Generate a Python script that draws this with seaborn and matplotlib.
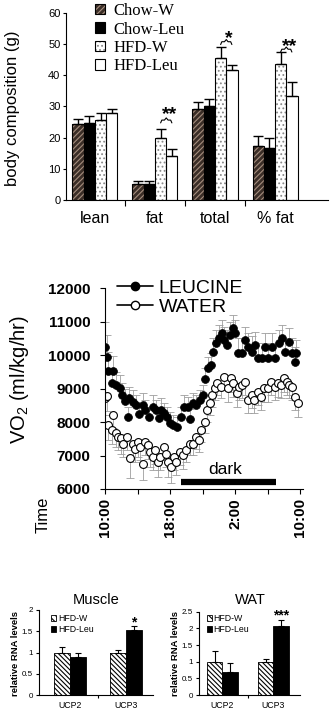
import numpy as np
import pandas as pd
import matplotlib
matplotlib.use("Agg")
import matplotlib.pyplot as plt
from matplotlib.patches import Patch, Rectangle
from matplotlib.lines import Line2D
from matplotlib.ticker import FormatStrFormatter
import seaborn as sns

# ---------------- Panel 1: body composition ----------------
comp_categories = ["lean", "fat", "total", "% fat"]
comp_groups = ["Chow-W", "Chow-Leu", "HFD-W", "HFD-Leu"]
chow_w = [24.5, 5.2, 29.3, 17.2]
chow_w_err = [1.6, 0.9, 2.0, 3.3]
chow_leu = [24.8, 5.0, 30.0, 16.8]
chow_leu_err = [2.2, 1.2, 2.4, 3.2]
hfd_w = [25.7, 20.0, 45.5, 43.7]
hfd_w_err = [2.3, 2.7, 3.6, 3.8]
hfd_leu = [27.8, 14.0, 41.5, 33.3]
hfd_leu_err = [1.2, 2.3, 1.8, 4.4]
comp_sig = ["", "**", "*", "**"]
comp_yticks = [0, 10, 20, 30, 40, 50, 60]

# ---------------- Panel 2: VO2 time course ----------------
leu_hours = [0.00, 0.29, 0.41, 0.83, 1.03, 1.32, 1.86, 2.15, 2.44, 2.77,
             2.98, 3.39, 3.80, 4.21, 4.63, 4.96, 5.45, 5.87, 6.28, 6.61,
             6.90, 7.31, 7.64, 8.06, 8.35, 8.88, 9.30, 9.71, 10.21, 10.41,
             10.83, 11.24, 11.65, 12.07, 12.27, 12.69, 13.02, 13.31, 13.72, 14.01,
             14.34, 14.67, 14.96, 15.37, 15.70, 15.99, 16.40, 16.82, 17.23, 17.64,
             18.06, 18.47, 18.88, 19.30, 19.71, 20.12, 20.54, 20.95, 21.36, 21.78,
             22.19, 22.60, 23.02, 23.35, 23.51]
leu_vo2 = [10250, 9940, 9540, 9160, 9540, 9110, 9010, 8810, 8640, 8160,
           8710, 8610, 8510, 8240, 8510, 8360, 8160, 8460, 8360, 8110,
           8360, 8260, 8160, 7960, 7910, 7840, 8160, 8460, 8460, 8080,
           8560, 8510, 8660, 8810, 9280, 9610, 9710, 10110, 10350, 10500,
           10650, 10450, 10300, 10600, 10800, 10650, 10060, 10060, 10450, 10250,
           10110, 10300, 9910, 9910, 10250, 9910, 10250, 9910, 10350, 10500,
           10110, 10400, 10060, 9810, 10060]
leu_sem = [750, 650, 550, 450, 450, 400, 400, 350, 350, 300,
           350, 350, 300, 300, 350, 300, 300, 350, 300, 300,
           350, 300, 300, 350, 300, 300, 300, 350, 300, 300,
           300, 300, 300, 300, 350, 350, 350, 400, 400, 400,
           400, 400, 450, 400, 400, 400, 450, 450, 400, 400,
           450, 400, 450, 450, 400, 450, 400, 450, 400, 400,
           400, 400, 450, 450, 400]
wat_hours = [0.00, 0.29, 0.37, 0.83, 1.03, 1.32, 1.61, 1.94, 2.27, 2.69,
             3.10, 3.39, 3.68, 4.01, 4.34, 4.63, 4.92, 5.25, 5.58, 5.87,
             6.16, 6.49, 6.82, 7.23, 7.52, 7.81, 8.14, 8.47, 8.76, 9.17,
             9.59, 10.00, 10.41, 10.83, 11.16, 11.53, 11.86, 12.27, 12.60, 12.89,
             13.22, 13.51, 13.84, 14.26, 14.67, 15.08, 15.50, 15.79, 16.20, 16.49,
             16.82, 17.23, 17.64, 18.06, 18.39, 18.80, 19.21, 19.63, 20.04, 20.45,
             20.87, 21.28, 21.69, 21.98, 22.40, 22.69, 23.02, 23.35, 23.76]
wat_vo2 = [8710, 8780, 7910, 7760, 8210, 7660, 7560, 7510, 7360, 7560,
           6920, 7360, 7210, 7410, 7260, 6760, 7410, 7310, 7110, 6970,
           7160, 6820, 6970, 7260, 7060, 6820, 6670, 6970, 6820, 7110,
           7010, 7160, 7360, 7360, 7560, 7460, 7760, 8010, 8360, 8560,
           8810, 9010, 9160, 9060, 9360, 9010, 9310, 9160, 8860, 9060,
           9110, 9210, 8660, 8810, 8660, 8910, 8760, 9010, 9010, 9210,
           9060, 9160, 9110, 9310, 9210, 9110, 9060, 8760, 8560]
wat_sem = [500, 450, 450, 400, 400, 400, 400, 450, 400, 400,
           600, 400, 400, 450, 400, 500, 400, 400, 450, 400,
           400, 450, 400, 400, 400, 450, 500, 400, 400, 400,
           400, 350, 350, 350, 350, 350, 350, 350, 350, 350,
           350, 350, 350, 350, 400, 400, 400, 400, 400, 400,
           400, 400, 400, 400, 400, 400, 400, 400, 400, 400,
           400, 400, 400, 400, 400, 400, 400, 400, 400]
time_tick_hours = [0, 8, 16, 24]
time_tick_labels = ["10:00", "18:00", "2:00", "10:00"]
dark_start, dark_end = 9.3, 21.1
vo2_yticks = [6000, 7000, 8000, 9000, 10000, 11000, 12000]

# ---------------- Panel 3: relative RNA levels ----------------
genes = ["UCP2", "UCP3"]
rna_groups = ["HFD-W", "HFD-Leu"]
muscle_w = [1.0, 1.0]
muscle_w_err = [0.13, 0.06]
muscle_leu = [0.90, 1.52]
muscle_leu_err = [0.08, 0.11]
muscle_sig = ["", "*"]
wat_w = [1.0, 1.0]
wat_w_err = [0.32, 0.09]
wat_leu = [0.70, 2.08]
wat_leu_err = [0.25, 0.16]
wat_sig = ["", "***"]

# ---------------- style ----------------
sns.set_style("ticks")
plt.rcParams.update({
    "font.family": ["Liberation Sans", "DejaVu Sans"],
    "mathtext.fontset": "custom",
    "mathtext.rm": "Liberation Sans",
    "mathtext.it": "Liberation Sans:italic",
    "mathtext.bf": "Liberation Sans:bold",
    "hatch.linewidth": 0.8,
    "axes.linewidth": 0.8,
    "axes.edgecolor": "black",
    "xtick.color": "black",
    "ytick.color": "black",
    "xtick.major.width": 0.8,
    "ytick.major.width": 0.8,
    "xtick.minor.width": 0.8,
    "text.color": "black",
    "axes.labelcolor": "black",
})

W, H = 335, 728
fig = plt.figure(figsize=(W / 100, H / 100), dpi=100)


def px_axes(left, top, right, bottom):
    return fig.add_axes([left / W, 1 - bottom / H, (right - left) / W, (bottom - top) / H])


def draw_bars(ax, cats, groups, values, errs, faces, hatches, hatch_cols, width, cap, elw, olw):
    df = pd.DataFrame({
        "cat": [c for g in groups for c in cats],
        "group": [g for g in groups for c in cats],
        "value": [v for vals in values for v in vals],
    })
    sns.barplot(data=df, x="cat", y="value", hue="group", order=cats, hue_order=groups,
                palette=dict(zip(groups, faces)), width=width, gap=0, errorbar=None,
                saturation=1, legend=False, ax=ax)
    centers = []
    for cont, hatch, hc, e_list in zip(ax.containers, hatches, hatch_cols, errs):
        xs, ys = [], []
        for bar in cont:
            if hatch:
                bar.set_hatch(hatch)
                bar.set_edgecolor(hc)
                bar.set_linewidth(0)
                ax.add_patch(Rectangle(bar.get_xy(), bar.get_width(), bar.get_height(),
                                       fill=False, edgecolor="black", lw=olw,
                                       zorder=bar.get_zorder() + 0.1))
            else:
                bar.set_edgecolor("black")
                bar.set_linewidth(olw)
            xs.append(bar.get_x() + bar.get_width() / 2)
            ys.append(bar.get_height())
        ax.errorbar(xs, ys, yerr=[np.zeros(len(e_list)), e_list], fmt="none",
                    ecolor="black", elinewidth=elw, capsize=cap, capthick=elw, zorder=3)
        centers.append(xs)
    ax.set_xlabel("")
    ax.set_ylabel("")
    sns.despine(ax=ax)
    return centers


# ================= Panel 1 =================
ax1 = px_axes(66, 12.7, 328, 200)
faces1 = ["#3b2e27", "black", "white", "white"]
hatches1 = ["//////", None, "....", None]
hcols1 = ["#a58e7e", None, "#8a8a8a", None]
c1 = draw_bars(ax1, comp_categories, comp_groups, [chow_w, chow_leu, hfd_w, hfd_leu],
               [chow_w_err, chow_leu_err, hfd_w_err, hfd_leu_err],
               faces1, hatches1, hcols1, width=0.75, cap=3.5, elw=1.0, olw=0.8)
ax1.set_xlim(-0.483, 3.883)
ax1.set_ylim(0, 60)
ax1.set_yticks(comp_yticks)
ax1.tick_params(axis="y", labelsize=8, length=2.5, pad=1.5)
ax1.tick_params(axis="x", which="major", length=0, pad=8, labelsize=11.5)
ax1.set_xticks([0.5, 1.5, 2.5], minor=True)
ax1.tick_params(axis="x", which="minor", length=4, direction="out")
fig.text(13 / W, 1 - 108 / H, "body composition (g)", rotation=90, ha="center", va="center", fontsize=12)

bracket_y = [None, 25.6, 50.7, 48.3]
star_y = [None, 29.3, 53.4, 50.9]
for i, s in enumerate(comp_sig):
    if not s:
        continue
    x1, x2 = c1[2][i], c1[3][i]
    xm = (x1 + x2) / 2
    y = bracket_y[i]
    ax1.plot([x1, x1 + 0.02, xm - 0.03, xm, xm + 0.03, x2 - 0.02, x2],
             [y - 0.9, y, y, y + 0.7, y, y, y - 0.9], color="black", lw=0.8)
    ax1.annotate(s, xy=(xm + 0.05, star_y[i]), xytext=(0, -4), textcoords="offset points",
                 ha="center", va="center", fontsize=14, fontweight="bold")

h_cw = (Patch(facecolor=faces1[0], edgecolor=hcols1[0], hatch=hatches1[0], lw=0),
        Patch(facecolor="none", edgecolor="black", lw=0.8))
h_cl = Patch(facecolor="black", edgecolor="black", lw=0.8)
h_hw = (Patch(facecolor="white", edgecolor=hcols1[2], hatch=hatches1[2], lw=0),
        Patch(facecolor="none", edgecolor="black", lw=0.8))
h_hl = Patch(facecolor="white", edgecolor="black", lw=0.8)
fig.legend([h_cw, h_cl, h_hw, h_hl], comp_groups, loc="upper left",
           bbox_to_anchor=(95 / W, 1 - 3 / H), bbox_transform=fig.transFigure,
           frameon=False, prop={"family": "Liberation Serif", "size": 12},
           handlelength=0.6, handleheight=0.6, handletextpad=0.5, labelspacing=0.15,
           borderpad=0, borderaxespad=0)

# ================= Panel 2 =================
px_per_h = 8.125
ax2 = px_axes(105, 288.3, 105 + 24.4 * px_per_h, 489)
ax2.errorbar(wat_hours, wat_vo2, yerr=[wat_sem, np.zeros(len(wat_sem))], fmt="none",
             ecolor="#9d9d9d", elinewidth=0.6, capsize=3, capthick=0.6, zorder=1)
ax2.errorbar(leu_hours, leu_vo2, yerr=[np.zeros(len(leu_sem)), leu_sem], fmt="none",
             ecolor="#9d9d9d", elinewidth=0.6, capsize=3, capthick=0.6, zorder=1)
sns.scatterplot(x=wat_hours, y=wat_vo2, s=32, color="white", edgecolor="black",
                linewidth=0.8, ax=ax2, zorder=2, legend=False)
sns.scatterplot(x=leu_hours, y=leu_vo2, s=32, color="black", edgecolor="black",
                linewidth=0.5, ax=ax2, zorder=3, legend=False)
ax2.plot([dark_start, dark_end], [6220, 6220], color="black", lw=4.5, solid_capstyle="butt")
ax2.text((dark_start + dark_end) / 2 - 0.4, 6570, "dark", ha="center", va="center", fontsize=12.5)
ax2.set_xlim(0, 24.4)
ax2.set_ylim(6000, 12000)
ax2.set_yticks(vo2_yticks)
ax2.set_xticks(time_tick_hours)
ax2.set_xticklabels(time_tick_labels, rotation=90)
ax2.set_xticks([4, 12, 20], minor=True)
ax2.tick_params(axis="both", which="both", length=3.5)
ax2.tick_params(axis="y", labelsize=11, pad=7)
ax2.tick_params(axis="x", labelsize=11, pad=3)
for lab in ax2.get_xticklabels() + ax2.get_yticklabels():
    lab.set_fontweight("bold")
sns.despine(ax=ax2)
fig.text(20 / W, 1 - 380 / H, r"VO$_\mathrm{2}$ (ml/kg/hr)", rotation=90,
         ha="center", va="center", fontsize=14.5)
fig.text(43 / W, 1 - 515 / H, "Time", rotation=90, ha="center", va="center", fontsize=12)
vo2_handles = [Line2D([], [], color="black", lw=1.2, marker="o", markersize=6,
                      markerfacecolor="black", markeredgecolor="black"),
               Line2D([], [], color="black", lw=1.2, marker="o", markersize=6,
                      markerfacecolor="white", markeredgecolor="black")]
fig.legend(vo2_handles, ["LEUCINE", "WATER"], loc="upper left",
           bbox_to_anchor=(117 / W, 1 - 279 / H), bbox_transform=fig.transFigure,
           frameon=False, fontsize=14, handlelength=1.85, handletextpad=0.3,
           labelspacing=0.08, borderpad=0, borderaxespad=0, numpoints=1)

# ================= Panel 3 =================
rna_hatch = "\\\\\\\\\\\\\\"
panels = [
    (px_axes(39.3, 610, 153, 695), "Muscle", muscle_w, muscle_w_err, muscle_leu, muscle_leu_err,
     muscle_sig, [0, 0.5, 1, 1.5, 2], (-0.554, 1.484), 0.574, 96, 15.5, 51),
    (px_axes(199.3, 611.7, 300, 695), "WAT", wat_w, wat_w_err, wat_leu, wat_leu_err,
     wat_sig, [0, 0.5, 1, 1.5, 2, 2.5], (-0.455, 1.52), 0.612, 250, 175.5, 206.7),
]
star_pos = {"Muscle": [None, 1.80], "WAT": [None, 2.50]}
for ax, title, w_vals, w_err, l_vals, l_err, sig, yt, xl, bw, tx, lx, legx in panels:
    cc = draw_bars(ax, genes, rna_groups, [w_vals, l_vals], [w_err, l_err],
                   ["white", "black"], [rna_hatch, None], ["black", None],
                   width=bw, cap=2.5, elw=0.8, olw=0.6)
    ax.set_xlim(*xl)
    ax.set_ylim(yt[0], yt[-1])
    ax.set_yticks(yt)
    ax.yaxis.set_major_formatter(FormatStrFormatter("%g"))
    ax.tick_params(axis="y", labelsize=5.8, length=2.5, pad=2)
    ax.tick_params(axis="x", which="major", length=0, pad=4, labelsize=6.3)
    ax.set_xticks([0.5], minor=True)
    ax.tick_params(axis="x", which="minor", length=2.5)
    for i, s in enumerate(sig):
        if s:
            ax.annotate(s, xy=(cc[1][i], star_pos[title][i]), xytext=(0, -3),
                        textcoords="offset points", ha="center", va="center",
                        fontsize=10, fontweight="bold")
    fig.text(tx / W, 1 - 600 / H, title, ha="center", va="center", fontsize=10.5)
    fig.text(lx / W, 1 - 653 / H, "relative RNA levels", rotation=90, ha="center",
             va="center", fontsize=6.8, fontweight="bold")
    lh = [Patch(facecolor="white", edgecolor="black", hatch="\\\\\\\\\\", lw=0.6),
          Patch(facecolor="black", edgecolor="black", lw=0.6)]
    fig.legend(lh, rna_groups, loc="upper left", bbox_to_anchor=(legx / W, 1 - 614 / H),
               bbox_transform=fig.transFigure, frameon=False, fontsize=6.3,
               handlelength=0.6, handleheight=0.6, handletextpad=0.2, labelspacing=0.25,
               borderpad=0, borderaxespad=0)

fig.savefig("out.png", dpi=100)
